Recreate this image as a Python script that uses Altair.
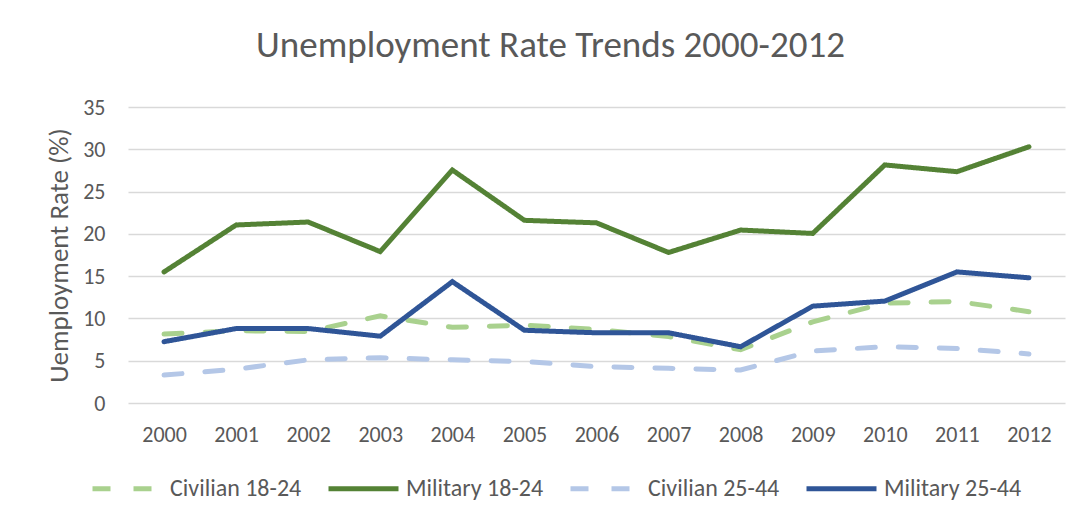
import altair as alt
import pandas as pd

years = [str(y) for y in range(2000, 2013)]
civilian_18_24 = [8.15, 8.55, 8.45, 10.3, 8.95, 9.2, 8.7, 7.85, 6.3, 9.6, 11.8, 12.0, 10.8]
military_18_24 = [15.5, 21.05, 21.4, 17.9, 27.55, 21.6, 21.3, 17.8, 20.45, 20.05, 28.15, 27.35, 30.3]
civilian_25_44 = [3.3, 4.0, 5.1, 5.35, 5.1, 4.9, 4.3, 4.1, 3.9, 6.15, 6.65, 6.45, 5.8]
military_25_44 = [7.25, 8.8, 8.8, 7.9, 14.35, 8.6, 8.3, 8.3, 6.65, 11.45, 12.05, 15.5, 14.8]

series_names = ["Civilian 18-24", "Military 18-24", "Civilian 25-44", "Military 25-44"]
series_values = [civilian_18_24, military_18_24, civilian_25_44, military_25_44]
series_colors = ["#A9D18E", "#548235", "#B4C7E7", "#2F5597"]
series_dash = [[18, 23], [1, 0], [18, 23], [1, 0]]
draw_order = [0, 2, 1, 3]

rows = []
for name, vals in zip(series_names, series_values):
    for yr, v in zip(years, vals):
        rows.append({"Year": yr, "Rate": v, "Series": name, "order": draw_order[series_names.index(name)]})
df = pd.DataFrame(rows)

FONT = "Carlito, Lato, sans-serif"
TXT = "#595959"

chart = alt.Chart(df).mark_line(strokeWidth=5, strokeCap="round").encode(
    x=alt.X("Year:O", sort=years, scale=alt.Scale(type="point", padding=0.5),
            axis=alt.Axis(title=None, labelAngle=0, ticks=False, domain=False,
                          labelPadding=21, labelFontSize=22, labelColor=TXT, labelFont=FONT)),
    y=alt.Y("Rate:Q", scale=alt.Scale(domain=[0, 35], nice=False),
            axis=alt.Axis(title="Uemployment Rate (%)", values=[0, 5, 10, 15, 20, 25, 30, 35],
                          ticks=False, domain=False, labelPadding=23, labelFontSize=22,
                          labelColor=TXT, labelFont=FONT, titleFont=FONT, titleFontSize=27,
                          titleFontWeight="normal", titleColor=TXT, titlePadding=9,
                          gridColor="#D9D9D9", gridWidth=1.3)),
    color=alt.Color("Series:N", sort=series_names,
                    scale=alt.Scale(domain=series_names, range=series_colors),
                    legend=alt.Legend(title=None, orient="none", direction="horizontal",
                                      legendX=-38, legendY=344, symbolType="stroke",
                                      symbolSize=4900, symbolStrokeWidth=5,
                                      labelFont=FONT, labelFontSize=24, labelColor=TXT,
                                      labelOffset=5, columnPadding=16, columns=4)),
    strokeDash=alt.StrokeDash("Series:N", sort=series_names,
                              scale=alt.Scale(domain=series_names, range=series_dash),
                              legend=alt.Legend(title=None)),
    order=alt.Order("order:Q"),
    detail="Series:N",
).properties(
    width=937,
    height=296,
    title=alt.TitleParams("Unemployment Rate Trends 2000-2012", font=FONT, fontSize=37,
                          fontWeight="normal", color=TXT, anchor="middle", dx=-46,
                          baseline="alphabetic", offset=2),
    autosize=alt.AutoSizeParams(type="none"),
    padding={"left": 120, "top": 99, "right": 9, "bottom": 110},
    background="white",
).configure_view(stroke=None)

chart.save("out.html", embed_options={"renderer": "svg", "actions": False})
